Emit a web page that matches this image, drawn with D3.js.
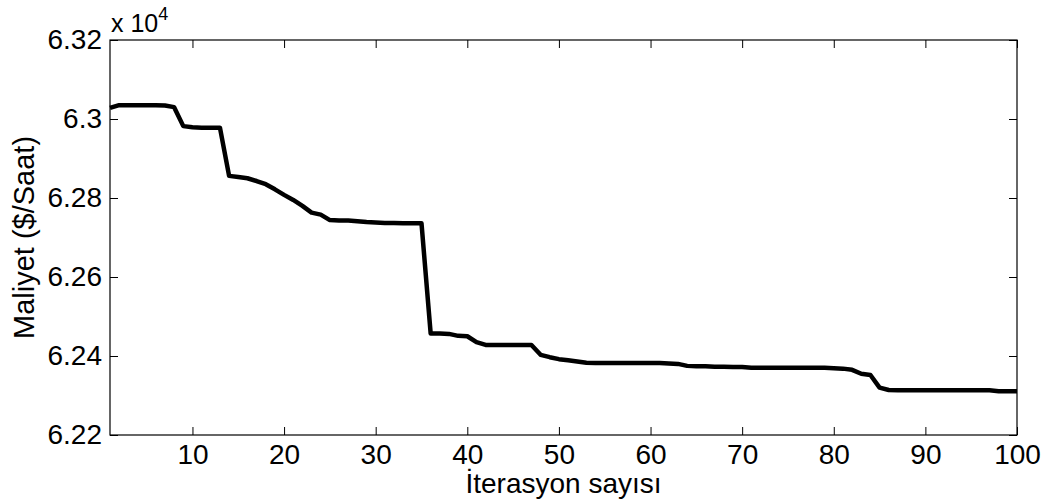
<!DOCTYPE html>
<html>
<head>
<meta charset="utf-8">
<script src="https://cdn.jsdelivr.net/npm/d3@7"></script>
<style>
  html, body { margin: 0; padding: 0; background: #fff; }
  svg { display: block; font-family: "Liberation Sans", Arial, sans-serif; }
</style>
</head>
<body>
<svg id="chart" width="1046" height="504"></svg>
<script>
// ---- data ----
const iterations = d3.range(1, 101);
const cost = [
  63028, 63035, 63035, 63035, 63035, 63035, 63034, 63030, 62982, 62979,
  62978, 62978, 62978, 62856, 62853, 62850, 62843, 62835, 62822, 62808,
  62795, 62780, 62763, 62758, 62744, 62743, 62743, 62741, 62739, 62738,
  62737, 62737, 62736, 62736, 62736, 62457, 62457, 62456, 62451, 62450,
  62435, 62428, 62428, 62428, 62428, 62428, 62428, 62403, 62397, 62392,
  62389, 62386, 62383, 62382, 62382, 62382, 62382, 62382, 62382, 62382,
  62382, 62381, 62380, 62375, 62374, 62374, 62373, 62373, 62372, 62372,
  62370, 62370, 62370, 62370, 62370, 62370, 62370, 62370, 62370, 62369,
  62368, 62365, 62355, 62352, 62320, 62314, 62313, 62313, 62313, 62313,
  62313, 62313, 62313, 62313, 62313, 62313, 62313, 62311, 62311, 62311
];
const xTicks = [10, 20, 30, 40, 50, 60, 70, 80, 90, 100];
const yTicks = [62200, 62400, 62600, 62800, 63000, 63200];
const yTickLabels = ["6.22", "6.24", "6.26", "6.28", "6.3", "6.32"];
const xLabel = "İterasyon sayısı";
const yLabel = "Maliyet ($/Saat)";

// ---- layout ----
const L = 110, R = 1017, T = 40, B = 435;
const svg = d3.select("#chart");
const x = d3.scaleLinear().domain([1, 100]).range([L, R]);
const y = d3.scaleLinear().domain([62200, 63200]).range([B, T]);

const fs = 28;
const tickLen = 8;
const ff = "Liberation Sans, Arial, sans-serif";

// axes box
svg.append("rect").attr("x", L).attr("y", T).attr("width", R - L).attr("height", B - T)
  .attr("fill", "none").attr("stroke", "#000").attr("stroke-width", 1.2);

// x axis (bottom) ticks inward
const xAxis = d3.axisBottom(x).tickValues(xTicks).tickSize(-tickLen).tickPadding(9)
  .tickFormat(d3.format("d"));
const gx = svg.append("g").attr("transform", `translate(0,${B})`).call(xAxis);
gx.select(".domain").remove();
gx.selectAll("text").attr("font-size", fs).attr("fill", "#000").attr("font-family", ff);
gx.selectAll("line").attr("stroke", "#000");

// x top mirrored ticks
const gxt = svg.append("g").attr("transform", `translate(0,${T})`)
  .call(d3.axisTop(x).tickValues(xTicks).tickSize(-tickLen).tickFormat(""));
gxt.select(".domain").remove();
gxt.selectAll("line").attr("stroke", "#000");

// y axis left
const yAxis = d3.axisLeft(y).tickValues(yTicks).tickSize(-tickLen).tickPadding(8)
  .tickFormat((d, i) => yTickLabels[i]);
const gy = svg.append("g").attr("transform", `translate(${L},0)`).call(yAxis);
gy.select(".domain").remove();
gy.selectAll("text").attr("font-size", fs).attr("fill", "#000").attr("font-family", ff);
gy.selectAll("line").attr("stroke", "#000");

// y right mirrored
const gyr = svg.append("g").attr("transform", `translate(${R},0)`)
  .call(d3.axisRight(y).tickValues(yTicks).tickSize(-tickLen).tickFormat(""));
gyr.select(".domain").remove();
gyr.selectAll("line").attr("stroke", "#000");

// exponent label
const ex = svg.append("text").attr("x", L + 1).attr("y", 32).attr("font-size", 25).attr("fill", "#000");
ex.append("tspan").text("x 10");
ex.append("tspan").attr("dy", -12).attr("font-size", 18).text("4");

// line
const line = d3.line().x((d, i) => x(iterations[i])).y(d => y(d));
svg.append("path").datum(cost).attr("d", line).attr("fill", "none")
  .attr("stroke", "#000").attr("stroke-width", 4.5).attr("stroke-linejoin", "round");

// labels
svg.append("text").attr("x", (L + R) / 2).attr("y", 493).attr("text-anchor", "middle")
  .attr("font-size", fs).attr("fill", "#000").text(xLabel);
svg.append("text").attr("transform", `translate(34,${(T + B) / 2}) rotate(-90)`)
  .attr("text-anchor", "middle").attr("font-size", 29).attr("fill", "#000").text(yLabel);
</script>
</body>
</html>
